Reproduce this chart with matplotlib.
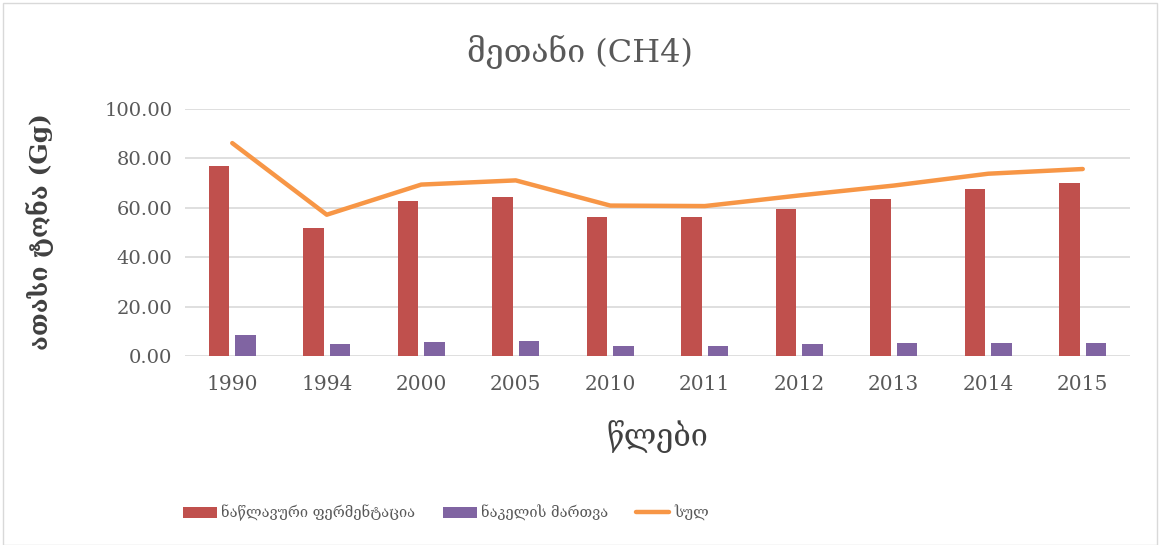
import matplotlib
matplotlib.use("Agg")
import matplotlib.pyplot as plt
import numpy as np
from matplotlib.patches import Rectangle

years = ["1990", "1994", "2000", "2005", "2010", "2011", "2012", "2013", "2014", "2015"]
enteric = [76.8, 51.7, 62.9, 64.5, 56.1, 56.1, 59.5, 63.4, 67.7, 69.9]
manure = [8.6, 4.9, 5.8, 6.1, 4.2, 4.2, 4.9, 5.1, 5.1, 5.4]
total = [86.2, 57.2, 69.4, 71.1, 60.9, 60.7, 65.0, 69.0, 73.8, 75.7]

series_names = ["ნაწლავური ფერმენტაცია", "ნაკელის მართვა", "სულ"]
title = "მეთანი (CH4)"
ylabel = "ათასი ტონა (Gg)"
xlabel = "წლები"
yticks = [0, 20, 40, 60, 80, 100]

FONT = ["DejaVu Serif", "DejaVu Sans"]
TEXT = "#595959"
plt.rcParams["font.family"] = FONT

fig = plt.figure(figsize=(11.6, 5.45), dpi=100)
ax = fig.add_axes([185 / 1160, 1 - 356 / 545, 945 / 1160, 247 / 545])

x = np.arange(len(years))
w = 0.22
off = 0.14
b1 = ax.bar(x - off, enteric, w, color="#C0504D", zorder=2)
b2 = ax.bar(x + off, manure, w, color="#8064A2", zorder=2)
ln, = ax.plot(x, total, color="#F79646", lw=3.2, solid_capstyle="round", zorder=3)

ax.set_xlim(-0.5, len(years) - 0.5)
ax.set_ylim(0, 100)
ax.set_yticks(yticks)
ax.set_yticklabels([f"{v:.2f}" for v in yticks])
ax.set_xticks(x, years)
ax.tick_params(axis="both", length=0, colors=TEXT)
ax.tick_params(axis="x", pad=14, labelsize=14.5)
ax.tick_params(axis="y", pad=9, labelsize=14)
ax.grid(axis="y", color="#d9d9d9", lw=1.2, zorder=0)
for s in ax.spines.values():
    s.set_visible(False)

fig.text(0.5, 1 - 52 / 545, title, ha="center", va="center", fontsize=23, color=TEXT)
fig.text(40 / 1160, 1 - 232 / 545, ylabel, ha="center", va="center", rotation=90,
         fontsize=18, fontweight="bold", color="#404040")
fig.text(657 / 1160, 1 - 437 / 545, xlabel, ha="center", va="center", fontsize=22, color="#404040")

fig.legend([b1, b2, ln], series_names, loc="center", bbox_to_anchor=(446 / 1160, 1 - 513 / 545),
           ncol=3, frameon=False, fontsize=10.5, labelcolor=TEXT, handlelength=2.3,
           handleheight=0.8, handletextpad=0.3, columnspacing=1.9)

fig.patches.append(Rectangle((3 / 1160, 0), 1 - 6 / 1160, 1 - 3 / 545, transform=fig.transFigure,
                             fill=False, edgecolor="#d9d9d9", lw=1))

fig.savefig("out.png", dpi=100)
